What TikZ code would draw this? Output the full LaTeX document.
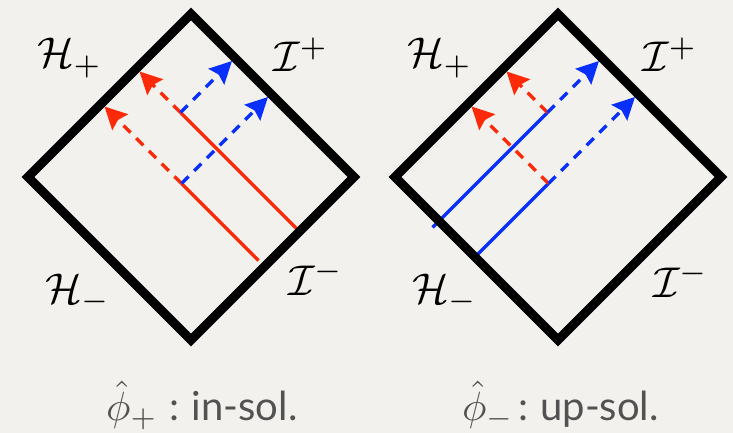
\documentclass[tikz,border=0pt]{standalone}
\usepackage{fontspec}
\setmainfont{Lato}
\usetikzlibrary{arrows.meta}
\definecolor{bg}{RGB}{242,241,237}
\definecolor{myred}{RGB}{252,42,8}
\definecolor{myblue}{RGB}{8,48,250}
\definecolor{txtgray}{RGB}{82,82,82}
\tikzset{
  frame/.style={line width=9pt, line join=miter, black},
  redsolid/.style={line width=3.5pt, myred},
  bluesolid/.style={line width=3.5pt, myblue},
  tipstyle/.style={-{Stealth[length=22pt,width=22pt,inset=3pt]}},
  reddash/.style={line width=3.5pt, myred, dash pattern=on 10pt off 8pt, tipstyle},
  bluedash/.style={line width=3.5pt, myblue, dash pattern=on 10pt off 8pt, tipstyle},
  lbl/.style={anchor=base west, inner sep=0pt},
  captext/.style={anchor=base west, inner sep=0pt, text=txtgray},
}
\newcommand{\capfont}{\fontsize{40}{46}\selectfont}
\begin{document}
\begin{tikzpicture}[x=1pt,y=-1pt]
\fill[bg] (0,0) rectangle (733,433);
\useasboundingbox (0,0) rectangle (733,433);

% ---------- left diagram: in-solution ----------
\begin{scope}[shift={(191pt,-177pt)}, x={(0.5pt,0.5pt)}, y={(-0.5pt,0.5pt)}]
  \coordinate (LT) at (163,163);
  \coordinate (LR) at (163,-163);
  \coordinate (LB) at (-163,-163);
  \coordinate (LL) at (-163,163);
  \coordinate (LP1) at (-16,3);
  \coordinate (LP2) at (54,75);
  \coordinate (LA0) at (-16,-151);
  \coordinate (LB0) at (54,-160);
  \coordinate (Lr1) at (-16,157);
  \coordinate (Lr2) at (54,157);
  \coordinate (Lb1) at (157,3);
  \coordinate (Lb2) at (157,75);
  \draw[redsolid] (LA0) -- (LP1);
  \draw[redsolid] (LB0) -- (LP2);
  \draw[reddash] (LP1) -- (Lr1);
  \draw[reddash] (LP2) -- (Lr2);
  \draw[bluedash] (LP1) -- (Lb1);
  \draw[bluedash] (LP2) -- (Lb2);
  \draw[frame] (LT) -- (LR) -- (LB) -- (LL) -- cycle;
\end{scope}

% ---------- right diagram: up-solution ----------
\begin{scope}[shift={(558pt,-177pt)}, x={(0.5pt,0.5pt)}, y={(-0.5pt,0.5pt)}]
  \coordinate (RT) at (163,163);
  \coordinate (RR) at (163,-163);
  \coordinate (RB) at (-163,-163);
  \coordinate (RL) at (-163,163);
  \coordinate (RP1) at (-16,3);
  \coordinate (RP2) at (54,75);
  \coordinate (RA0) at (-176,75);
  \coordinate (RB0) at (-159,3);
  \coordinate (Rr1) at (-16,157);
  \coordinate (Rr2) at (54,157);
  \coordinate (Rb1) at (157,3);
  \coordinate (Rb2) at (157,75);
  \draw[bluesolid] (RA0) -- (RP2);
  \draw[bluesolid] (RB0) -- (RP1);
  \draw[reddash] (RP1) -- (Rr1);
  \draw[reddash] (RP2) -- (Rr2);
  \draw[bluedash] (RP1) -- (Rb1);
  \draw[bluedash] (RP2) -- (Rb2);
  \draw[frame] (RT) -- (RR) -- (RB) -- (RL) -- cycle;
\end{scope}

% ---------- labels ----------
\node[lbl] (lHp) at (37,68)  {\scalebox{4.3}{$\mathcal{H}_+$}};
\node[lbl] (lIp) at (273,72) {\scalebox{4.3}{$\mathcal{I}^+$}};
\node[lbl] (lHm) at (45,303) {\scalebox{4.3}{$\mathcal{H}_-$}};
\node[lbl] (lIm) at (288,295) {\scalebox{4.3}{$\mathcal{I}^-$}};
\node[lbl] (rHp) at (407,68)  {\scalebox{4.3}{$\mathcal{H}_+$}};
\node[lbl] (rIp) at (642,72) {\scalebox{4.3}{$\mathcal{I}^+$}};
\node[lbl] (rHm) at (412,303) {\scalebox{4.3}{$\mathcal{H}_-$}};
\node[lbl] (rIm) at (653,297) {\scalebox{4.3}{$\mathcal{I}^-$}};

% ---------- captions ----------
\node[captext] (capL) at (106,420) {\scalebox{4.1}{$\hat{\phi}_+$}\hspace{12pt}{\capfont :\hspace{12pt}in-sol.}};
\node[captext] (capR) at (462,420) {\scalebox{4.1}{$\hat{\phi}_-$}\hspace{4pt}{\capfont :\hspace{12pt}up-sol.}};
\end{tikzpicture}
\end{document}
